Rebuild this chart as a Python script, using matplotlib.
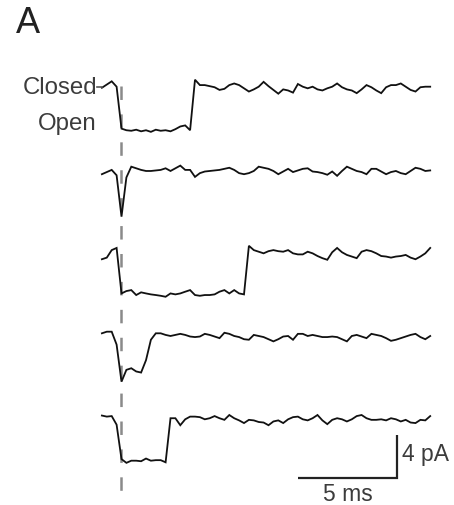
import matplotlib
matplotlib.use("Agg")
import matplotlib.pyplot as plt
import numpy as np

plt.rcParams['font.family'] = ['Liberation Sans', 'DejaVu Sans']

# Recording sample grid (ms), 0 = start of the depolarising step (dashed line)
t_start = -1.0
dt = 0.25

# Single-channel current sweeps in pA (0 = closed, about -4 = open)
sweep1 = [-0.1, 0.2, 0.5, 0.0, -3.9,
          -4.05, -4.1, -4.0, -4.15, -4.05, -4.2, -4.0, -4.1, -4.05, -4.15, -3.95, -3.7, -3.6, -4.05,
          0.65,
          0.15, 0.15, 0.05, -0.05, -0.3, -0.2, 0.15, 0.3, 0.15, -0.15, -0.45, -0.25, 0.0, 0.45, 0.05, -0.3,
          -0.65, -0.25, -0.35, -0.55, 0.25, 0.0, -0.15, 0.0, -0.25, -0.35, -0.15, 0.0, 0.3, -0.05, -0.25,
          -0.35, -0.6, -0.25, 0.15, -0.05, -0.35, -0.6, -0.05, 0.15, 0.15, 0.3, 0.0, -0.3, -0.45, -0.05, 0.0, 0.0]
sweep2 = [-0.3, -0.1, 0.1, -0.4, -4.25, -0.6, 0.4,
          0.25, 0.1, 0.0, 0.0, 0.05, 0.1, 0.25, 0.0, 0.25, 0.5, 0.1, 0.1, -0.55, -0.2, -0.05, 0.0, 0.05,
          0.1, 0.2, 0.3, 0.1, -0.2, -0.3, -0.2, 0.0, 0.4, 0.3, 0.2, 0.0, -0.3, -0.05, 0.2, -0.1, 0.05, 0.2,
          0.25, -0.05, -0.1, -0.2, -0.35, -0.05, -0.45, 0.0, 0.4, 0.2, 0.0, -0.1, -0.3, 0.2, 0.2, -0.05,
          -0.3, -0.1, 0.0, -0.2, -0.3, 0.0, 0.3, 0.2, 0.0, 0.05]
sweep3 = [-0.7, -0.55, 0.15, 0.35,
          -3.88, -3.66, -3.57, -4.03, -3.78, -3.88, -3.97, -4.03, -4.1, -4.19, -3.88, -3.97, -3.88,
          -3.72, -3.57, -4.03, -4.1, -4.03, -4.03, -3.97, -3.72, -3.57, -3.88, -3.57, -3.88, -3.97,
          0.55,
          0.15, 0.0, -0.15, 0.05, 0.15, 0.05, 0.0, 0.15, -0.15, -0.25, -0.25, 0.0, -0.15, -0.4, -0.6,
          -0.75, -0.05, 0.35, -0.05, -0.3, -0.45, -0.6, 0.0, 0.15, 0.05, -0.15, -0.4, -0.45, -0.55,
          -0.45, -0.4, -0.3, -0.55, -0.7, -0.45, -0.15, 0.35]
sweep4 = [0.25, 0.4, 0.4, -0.8, -4.25, -3.15, -3.0, -3.3, -3.4, -2.25, -0.35, 0.25,
          0.25, 0.1, 0.0, 0.1, 0.2, 0.1, -0.05, -0.1, -0.05, 0.2, 0.1, -0.05, -0.2, 0.3, 0.2, 0.0, -0.1,
          -0.3, -0.35, 0.1, 0.0, -0.1, -0.3, -0.5, -0.3, -0.05, 0.0, -0.35, 0.2, 0.2, 0.0, 0.1, 0.0, -0.1,
          -0.1, -0.05, -0.1, -0.3, -0.5, 0.0, 0.1, -0.05, -0.2, 0.2, 0.1, 0.0, -0.2, -0.45, -0.35, -0.2,
          -0.05, 0.1, 0.2, -0.1, -0.3, 0.0]
sweep5 = [0.35, 0.25, 0.3, -0.5, -3.7, -4.05, -3.85, -3.85, -3.9, -3.65, -3.85, -3.8, -3.8, -4.0,
          0.1, 0.1, -0.55, 0.0, 0.25, 0.25, 0.2, 0.0, 0.1, 0.3, 0.1, -0.05, 0.4, 0.1, -0.1, -0.35, -0.05,
          -0.1, -0.25, -0.3, -0.55, -0.2, -0.1, -0.35, 0.0, 0.2, 0.25, 0.0, -0.1, 0.1, 0.4, -0.1, -0.45,
          -0.05, 0.1, 0.0, -0.2, 0.0, 0.3, 0.4, 0.1, -0.05, -0.05, 0.0, -0.1, 0.1, 0.0, -0.2, -0.05,
          -0.3, -0.35, -0.05, -0.1, 0.3]
sweeps = [sweep1, sweep2, sweep3, sweep4, sweep5]

# vertical spacing of the sweeps on the page (pA)
offsets = [0.0, -7.84, -15.35, -23.19, -30.94]

# scale bar
bar_ms = 5
bar_pa = 4

# page geometry: pixels per ms / pA and where t=0 / the first baseline sit
px_ms = 19.6
px_pa = 10.75
x0_px = 121.5
y0_px = 86.7
W, H = 454, 505

fig = plt.figure(figsize=(W / 100, H / 100), dpi=100)
ax = fig.add_axes([0, 0, 1, 1])
ax.set_xlim(-x0_px / px_ms, (W - x0_px) / px_ms)
ax.set_ylim(-(H - y0_px) / px_pa, y0_px / px_pa)
ax.axis('off')

def px_to_y(py):
    return (y0_px - py) / px_pa

def px_to_x(px):
    return (px - x0_px) / px_ms

# dashed line marking the step onset
lw_dash = 1.8
ax.plot([0, 0], [px_to_y(86), px_to_y(492)], color='#8a8a8a', lw=lw_dash,
        dashes=(9.7 / lw_dash, 10.4 / lw_dash), zorder=1)

for sw, off in zip(sweeps, offsets):
    t = t_start + dt * np.arange(len(sw))
    ax.plot(t, np.array(sw) + off, color='#111111', lw=1.3, zorder=2,
            solid_joinstyle='miter')

# little tick joining the label to the first sweep
ax.plot([px_to_x(97), t_start], [0, 0], color='#555555', lw=1.2)

txt = '#3c3c3c'
ax.text(px_to_x(97), px_to_y(94), 'Closed', ha='right', va='baseline', fontsize=17.3, color=txt)
ax.text(px_to_x(97), px_to_y(130), 'Open', ha='right', va='baseline', fontsize=17.3, color=txt)
ax.text(px_to_x(16), px_to_y(33), 'A', ha='left', va='baseline', fontsize=26, color='#222222')

# scale bar
bx = px_to_x(396.5)
by = px_to_y(477.5)
ax.plot([bx - bar_ms, bx, bx], [by, by, by + bar_pa], color='#222222', lw=1.6,
        solid_joinstyle='miter', solid_capstyle='butt')
ax.text(px_to_x(402), px_to_y(461.5), f'{bar_pa} pA', ha='left', va='baseline', fontsize=16.5, color=txt)
ax.text(bx - bar_ms / 2, px_to_y(501.5), f'{bar_ms} ms', ha='center', va='baseline', fontsize=16.5, color=txt)

fig.savefig('out.png', dpi=100)
